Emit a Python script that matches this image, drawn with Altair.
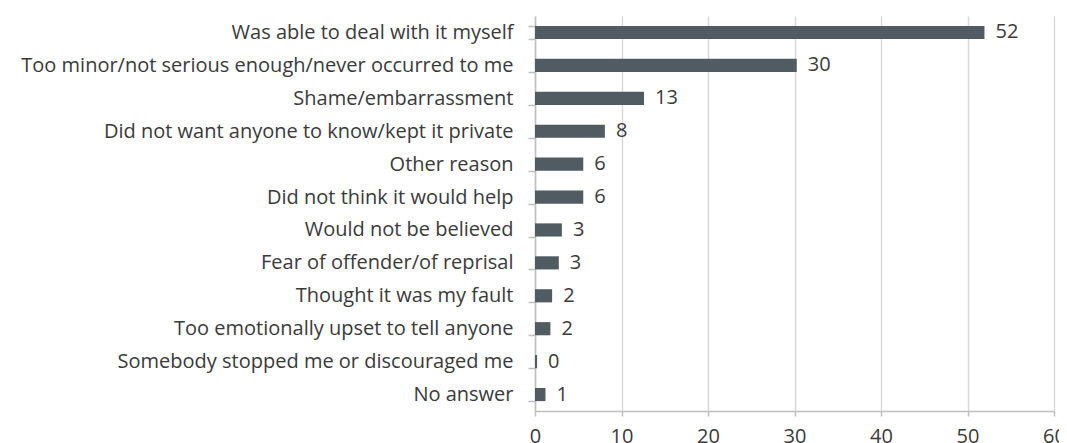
import altair as alt
import pandas as pd

categories = [
    "Was able to deal with it myself",
    "Too minor/not serious enough/never occurred to me",
    "Shame/embarrassment",
    "Did not want anyone to know/kept it private",
    "Other reason",
    "Did not think it would help",
    "Would not be believed",
    "Fear of offender/of reprisal",
    "Thought it was my fault",
    "Too emotionally upset to tell anyone",
    "Somebody stopped me or discouraged me",
    "No answer",
]
values = [51.96, 30.26, 12.6, 8.08, 5.58, 5.58, 3.11, 2.75, 1.98, 1.78, 0.24, 1.21]
value_labels = ["52", "30", "13", "8", "6", "6", "3", "3", "2", "2", "0", "1"]
x_ticks = [0, 10, 20, 30, 40, 50, 60]

df = pd.DataFrame({"reason": categories, "value": values, "label": value_labels})

FONT = "Open Sans"
TEXT = "#3a3a3a"
BAR = "#515b62"

y_enc = alt.Y(
    "reason:N",
    sort=categories,
    scale=alt.Scale(paddingInner=0.6, paddingOuter=0.3),
    axis=alt.Axis(
        title=None,
        tickBand="extent",
        tickSize=7,
        tickColor="#bfbfbf",
        domainColor="#bfbfbf",
        domainWidth=1.5,
        tickWidth=1.5,
        labelPadding=15,
        labelFontSize=20,
        labelFont=FONT,
        labelColor=TEXT,
        labelLimit=700,
        grid=False,
    ),
)

x_enc = alt.X(
    "value:Q",
    scale=alt.Scale(domain=[0, 60], nice=False),
    axis=alt.Axis(
        title=None,
        values=x_ticks,
        grid=True,
        gridColor="#d9d9d9",
        gridWidth=1.5,
        domainColor="#bfbfbf",
        domainWidth=1.5,
        tickColor="#bfbfbf",
        tickWidth=1.5,
        tickSize=5,
        labelPadding=10,
        labelFontSize=20,
        labelFont=FONT,
        labelColor=TEXT,
        labelFlush=False,
    ),
)

bars = alt.Chart(df).mark_bar(color=BAR).encode(x=x_enc, y=y_enc)

texts = alt.Chart(df).mark_text(
    align="left", baseline="middle", dx=11, fontSize=20, font=FONT, color=TEXT
).encode(x="value:Q", y=alt.Y("reason:N", sort=categories), text="label:N")

chart = (
    alt.layer(bars, texts)
    .properties(
        width=519,
        height=395,
        autosize=alt.AutoSizeParams(type="none"),
        padding={"left": 527, "top": 8, "right": 5, "bottom": 32},
    )
    .configure_view(stroke=None)
)

chart.save("out.html", embed_options={"renderer": "svg", "actions": False})
